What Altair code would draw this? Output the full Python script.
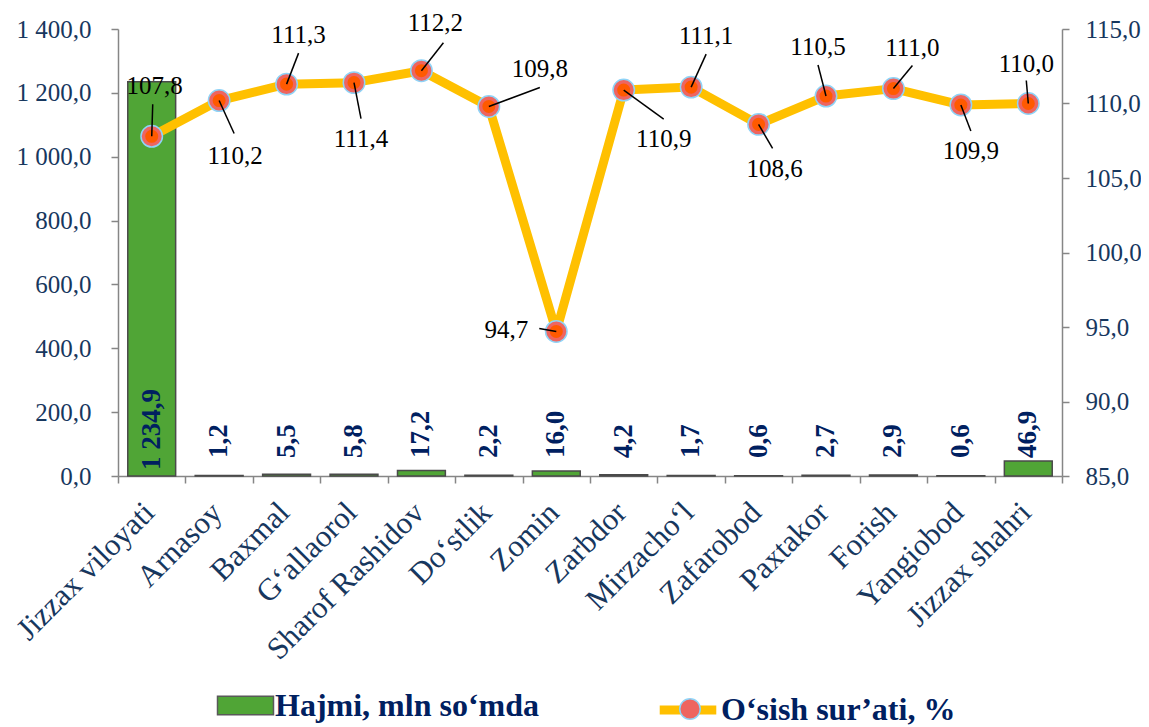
import altair as alt
import pandas as pd

# ---------------- data ----------------
categories = ["Jizzax viloyati", "Arnasoy", "Baxmal", "G‘allaorol", "Sharof Rashidov",
              "Do‘stlik", "Zomin", "Zarbdor", "Mirzacho‘l", "Zafarobod", "Paxtakor",
              "Forish", "Yangiobod", "Jizzax shahri"]
volume = [1234.9, 1.2, 5.5, 5.8, 17.2, 2.2, 16.0, 4.2, 1.7, 0.6, 2.7, 2.9, 0.6, 46.9]
growth = [107.8, 110.2, 111.3, 111.4, 112.2, 109.8, 94.7, 110.9, 111.1, 108.6, 110.5, 111.0, 109.9, 110.0]
left_ticks = [0, 200, 400, 600, 800, 1000, 1200, 1400]
right_ticks = [85, 90, 95, 100, 105, 110, 115]
series_names = ["Hajmi, mln so‘mda", "O‘sish sur’ati, %"]

# ---------------- style: label callout offsets (px) ----------------
label_dx = [3, 16, 12, 7, 14, 51, -50, 40, 15, 16, -8, 19, 10, -2]
label_dy = [-50, 55, -49, 56, -48, -37, -1, 49, -51, 45, -49, -41, 46, -40]
leader_dx = [1, 15, 12, 7, 22, 51, -17, 40, 15, 14, -8, 19, 10, -2]
leader_dy = [-32, 33, -31, 36, -28, -19, -3, 29, -33, 24, -31, -23, 26, -23]

df = pd.DataFrame({
    "cat": categories,
    "idx": list(range(len(categories))),
    "vol": volume,
    "gr": growth,
    "s1": series_names[0],
    "s2": series_names[1],
    "s3": "marker",
    "tdx": label_dx,
    "tdy": label_dy,
    "ldx": leader_dx,
    "ldy": leader_dy,
})

FONT = "Liberation Serif"
AX = "#868686"
TXT = "#17375E"
NAVY = "#002060"
LEG_C = 676  # legend row centre, relative to plot top
LEG_FS = 32

base = alt.Chart(df)

# ---------------- bars (left axis) ----------------
x_cat = alt.X(
    "cat:N", sort=categories,
    scale=alt.Scale(paddingInner=0, paddingOuter=0),
    axis=alt.Axis(title=None, labelAngle=-45, labelFont=FONT, labelFontSize=31,
                  labelColor=TXT, labelLimit=500, labelOverlap=False,
                  labelAlign="right", labelBaseline="top",
                  tickBand="extent", tickSize=7, tickColor=AX, tickWidth=1.5,
                  domainColor=AX, domainWidth=1.5, labelPadding=14, labelOffset=-13),
)
y_left = alt.Y(
    "vol:Q",
    scale=alt.Scale(domain=[0, 1400], nice=False),
    axis=alt.Axis(title=None, values=left_ticks,
                  labelExpr="replace(replace(format(datum.value, ',.1f'), ',', ' '), '.', ',')",
                  labelFont=FONT, labelFontSize=25, labelColor=TXT, labelPadding=20,
                  tickSize=7, tickColor=AX, tickWidth=1.5, domainColor=AX, domainWidth=1.5),
)

bars = base.mark_bar(width=alt.RelativeBandSize(0.71), stroke="#4A4A4A", strokeWidth=1.5).encode(
    x=x_cat,
    y=y_left,
    color=alt.Color("s1:N", scale=alt.Scale(domain=[series_names[0]], range=["#50A536"]),
                    legend=alt.Legend(title=None, orient="none", legendX=108, legendY=LEG_C - 19,
                                      symbolType="M-1.5,-0.5H1.5V0.5H-1.5Z", symbolSize=1393,
                                      symbolStrokeColor="#595959", symbolStrokeWidth=1.5,
                                      labelFont=FONT, labelFontSize=LEG_FS, labelFontWeight="bold",
                                      labelColor=NAVY, labelOffset=10, labelLimit=600)),
)

bar_labels = base.transform_calculate(
    blab="replace(replace(format(datum.vol, ',.1f'), ',', ' '), '.', ',')"
).mark_text(
    angle=270, align="left", baseline="middle", font=FONT, fontSize=27,
    fontWeight="bold", color=NAVY,
    dx=alt.ExprRef(expr="datum.vol > 1000 ? 6 : 18"),
).encode(
    x=alt.X("cat:N", sort=categories),
    y=alt.datum(0),
    text="blab:N",
)

bar_group = alt.layer(bars, bar_labels)

# ---------------- line (right axis) ----------------
x_idx = alt.X("idx:Q", scale=alt.Scale(domain=[-0.5, len(categories) - 0.5], nice=False, zero=False), axis=None)
y_right = alt.Y(
    "gr:Q",
    scale=alt.Scale(domain=[85, 115], nice=False, zero=False),
    axis=alt.Axis(title=None, orient="right", values=right_ticks,
                  labelExpr="replace(format(datum.value, '.1f'), '.', ',')",
                  labelFont=FONT, labelFontSize=25, labelColor=TXT, labelPadding=16,
                  tickSize=7, tickColor=AX, tickWidth=1.5, domainColor=AX, domainWidth=1.5),
)

line = base.mark_line(strokeWidth=9, strokeJoin="round").encode(
    x=x_idx, y=y_right,
    color=alt.Color("s2:N", scale=alt.Scale(domain=[series_names[1]], range=["#FFC000"]),
                    legend=alt.Legend(title=None, orient="none", legendX=537, legendY=LEG_C - 28,
                                      symbolType="M-1,0H1", symbolSize=3200, symbolStrokeWidth=9,
                                      labelFont=FONT, labelFontSize=LEG_FS, labelFontWeight="bold",
                                      labelColor=NAVY, labelOffset=0, labelLimit=600)),
)

pts_outer = base.mark_circle(size=460, opacity=1, stroke="#8FD3F7", strokeWidth=1.5).encode(
    x=x_idx, y=alt.Y("gr:Q"),
    fill=alt.Fill("s3:N", scale=alt.Scale(domain=["marker"], range=["#EE6560"]),
                  legend=alt.Legend(title=None, orient="none", legendX=556, legendY=LEG_C - 12,
                                    symbolType="circle", symbolSize=420,
                                    symbolStrokeColor="#8FD3F7", symbolStrokeWidth=1.5,
                                    labelExpr="''", labelFontSize=LEG_FS)),
)
pts_inner = base.mark_circle(size=170, opacity=1, color="#FF5A00").encode(x=x_idx, y=alt.Y("gr:Q"))

leaders = base.mark_rule(
    color="black", strokeWidth=1.5,
    x2Offset=alt.ExprRef(expr="datum.ldx"), y2Offset=alt.ExprRef(expr="datum.ldy"),
).encode(x=x_idx, x2="idx:Q", y=alt.Y("gr:Q"), y2="gr:Q")

val_labels = base.transform_calculate(
    glab="replace(format(datum.gr, '.1f'), '.', ',')"
).mark_text(
    font=FONT, fontSize=25, color="black", align="center", baseline="middle",
    dx=alt.ExprRef(expr="datum.tdx"), dy=alt.ExprRef(expr="datum.tdy"),
).encode(x=x_idx, y=alt.Y("gr:Q"), text="glab:N")

line_group = alt.layer(line, pts_outer, pts_inner, leaders, val_labels)

chart = alt.layer(bar_group, line_group).resolve_scale(
    x="independent", y="independent", color="independent", fill="independent"
).properties(
    width=944, height=447,
    padding={"left": 110, "top": 21, "right": 79, "bottom": 250},
    autosize=alt.AutoSizeParams(type="none"),
).configure_view(stroke=None).configure_axis(grid=False)

chart.save("out.html", embed_options={"renderer": "svg", "actions": False})
